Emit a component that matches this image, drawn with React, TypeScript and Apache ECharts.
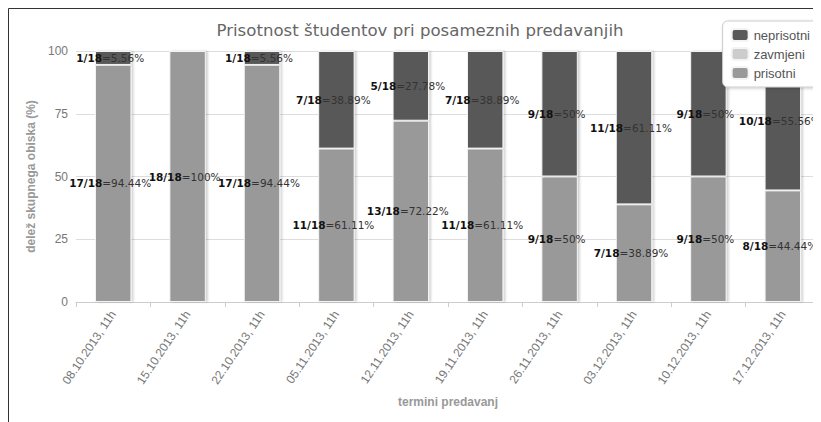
import React, { useEffect, useRef } from "react";
import * as echarts from "echarts";

const categories = [
  "08.10.2013, 11h",
  "15.10.2013, 11h",
  "22.10.2013, 11h",
  "05.11.2013, 11h",
  "12.11.2013, 11h",
  "19.11.2013, 11h",
  "26.11.2013, 11h",
  "03.12.2013, 11h",
  "10.12.2013, 11h",
  "17.12.2013, 11h",
];
const totalStudents = 18;
const prisotniCount = [17, 18, 17, 11, 13, 11, 9, 7, 9, 8];
const prisotniPct = [94.44, 100, 94.44, 61.11, 72.22, 61.11, 50, 38.89, 50, 44.44];
const zavmjeniCount = [0, 0, 0, 0, 0, 0, 0, 0, 0, 0];
const zavmjeniPct = [0, 0, 0, 0, 0, 0, 0, 0, 0, 0];
const neprisotniCount = [1, 0, 1, 7, 5, 7, 9, 11, 9, 10];
const neprisotniPct = [5.56, 0, 5.56, 38.89, 27.78, 38.89, 50, 61.11, 50, 55.56];
const yTicks = [0, 25, 50, 75, 100];

const TITLE = "Prisotnost študentov pri posameznih predavanjih";

function makeLabel(counts: number[]) {
  return {
    show: true,
    position: "inside",
    offset: [-3, 0],
    formatter: (p: any) => {
      const v = p.value as number;
      if (!v) return "";
      return `{b|${counts[p.dataIndex]}/${totalStudents}}{n|=${v}%}`;
    },
    rich: {
      b: { fontFamily: "DejaVu Sans", fontSize: 10.5, fontWeight: "bold", color: "#111" },
      n: { fontFamily: "DejaVu Sans", fontSize: 10.5, color: "#333" },
    },
  };
}

const barStyle = (color: string) => ({
  color,
  borderColor: "#f4f4f4",
  borderWidth: 1,
  shadowColor: "rgba(0,0,0,0.18)",
  shadowOffsetX: 2,
  shadowOffsetY: 0,
  shadowBlur: 2,
});

export default function App() {
  const ref = useRef<HTMLDivElement>(null);
  useEffect(() => {
    if (!ref.current) return;
    const chart = echarts.init(ref.current, undefined, { renderer: "svg" });
    chart.setOption({
      animation: false,
      backgroundColor: "#fff",
      textStyle: { fontFamily: "Liberation Sans" },
      graphic: [
        { type: "line", shape: { x1: 0.5, y1: 0.5, x2: 813, y2: 0.5 }, style: { stroke: "#333", lineWidth: 1 }, z: 100 },
        { type: "line", shape: { x1: 0.5, y1: 0.5, x2: 0.5, y2: 414 }, style: { stroke: "#333", lineWidth: 1 }, z: 100 },
        {
          type: "text",
          x: 412,
          y: 22,
          style: {
            text: TITLE,
            fontFamily: "DejaVu Sans",
            fontSize: 16.6,
            fill: "#666",
            align: "center",
            verticalAlign: "middle",
          },
        },
      ],
      legend: {
        orient: "vertical",
        right: -5,
        top: 13,
        data: ["neprisotni", "zavmjeni", "prisotni"],
        itemWidth: 17,
        itemHeight: 12,
        itemGap: 5,
        icon: "roundRect",
        padding: [7, 16, 7, 8],
        backgroundColor: "#fff",
        borderColor: "#ccc",
        borderWidth: 1,
        borderRadius: 5,
        shadowColor: "rgba(0,0,0,0.2)",
        shadowBlur: 3,
        shadowOffsetX: 1,
        shadowOffsetY: 1,
        textStyle: { color: "#555", fontSize: 13, fontFamily: "Liberation Sans" },
        selectedMode: false,
      },
      grid: { left: 68, right: 1, top: 43, bottom: 120, containLabel: false },
      xAxis: {
        type: "category",
        data: categories,
        name: "termini predavanj",
        nameLocation: "middle",
        nameGap: 94,
        nameTextStyle: { color: "#999", fontWeight: "bold", fontSize: 12, fontFamily: "Liberation Sans" },
        axisLine: { lineStyle: { color: "#ccc" } },
        axisTick: { show: true, length: 5, lineStyle: { color: "#ccc" } },
        axisLabel: { rotate: 56, color: "#777", fontSize: 12, margin: 10, fontFamily: "Liberation Sans" },
      },
      yAxis: {
        type: "value",
        min: yTicks[0],
        max: yTicks[yTicks.length - 1],
        interval: 25,
        name: "delež skupnega obiska (%)",
        nameLocation: "middle",
        nameGap: 36,
        nameTextStyle: { color: "#999", fontWeight: "bold", fontSize: 12, fontFamily: "Liberation Sans" },
        axisLine: { show: false },
        axisTick: { show: false },
        axisLabel: { color: "#777", fontSize: 12, margin: 8, fontFamily: "Liberation Sans" },
        splitLine: { lineStyle: { color: "#ddd" } },
      },
      series: [
        {
          name: "prisotni",
          type: "bar",
          stack: "total",
          barWidth: "49%",
          data: prisotniPct,
          itemStyle: barStyle("#999999"),
          label: makeLabel(prisotniCount),
        },
        {
          name: "zavmjeni",
          type: "bar",
          stack: "total",
          data: zavmjeniPct,
          itemStyle: barStyle("#cccccc"),
          label: makeLabel(zavmjeniCount),
        },
        {
          name: "neprisotni",
          type: "bar",
          stack: "total",
          data: neprisotniPct,
          itemStyle: barStyle("#595959"),
          label: makeLabel(neprisotniCount),
        },
      ],
    });
    return () => chart.dispose();
  }, []);
  return <div ref={ref} style={{ width: 813, height: 414 }} />;
}
